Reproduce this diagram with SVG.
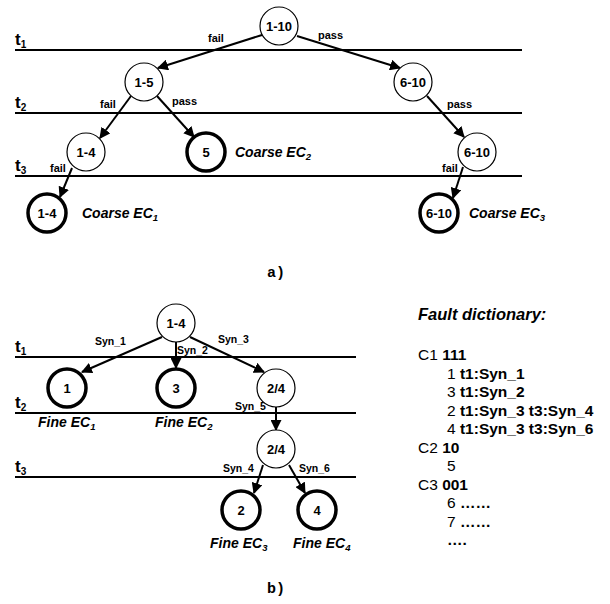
<svg xmlns="http://www.w3.org/2000/svg" width="610" height="604" viewBox="0 0 610 604">
<style>
text{font-family:"Liberation Sans",Arial,sans-serif;fill:#000}
.tl{font-size:17px;font-weight:bold}
.ts{font-size:10px;font-weight:bold}
.node{fill:#fff;stroke:#000;stroke-width:1.2}
.thick{fill:#fff;stroke:#000;stroke-width:3.5}
.nl{font-size:13px;font-weight:bold;text-anchor:middle}
.el{font-size:11px;font-weight:bold}
.sy{font-size:10.5px;font-weight:bold}
.ec{font-size:14px;font-weight:bold;font-style:italic}
.sub{font-size:9.5px}
.cap{font-family:"Liberation Mono","Courier New",monospace;font-size:15px;font-weight:bold}
.tline{stroke:#000;stroke-width:2.2}
.edge{stroke:#000;stroke-width:2;fill:none;marker-end:url(#ah)}
.fd{font-size:15.5px}
.b{font-weight:bold}
</style>
<defs>
<marker id="ah" viewBox="0 0 10 10" refX="9" refY="5" markerWidth="5.5" markerHeight="5.5" orient="auto" markerUnits="strokeWidth">
<path d="M0,0 L10,5 L0,10 z" fill="#000"/>
</marker>
</defs>

<g id="timelines">
<line class="tline" x1="15" y1="50" x2="522" y2="50"/>
<line class="tline" x1="15" y1="113" x2="522" y2="113"/>
<line class="tline" x1="15" y1="176" x2="522" y2="176"/>
<text class="tl" x="15" y="45">t<tspan class="ts" dy="3">1</tspan></text>
<text class="tl" x="15" y="108">t<tspan class="ts" dy="3">2</tspan></text>
<text class="tl" x="15" y="171">t<tspan class="ts" dy="3">3</tspan></text>
<line class="tline" x1="15" y1="357" x2="356" y2="357"/>
<line class="tline" x1="15" y1="413" x2="356" y2="413"/>
<line class="tline" x1="15" y1="477" x2="356" y2="477"/>
<text class="tl" x="15" y="352">t<tspan class="ts" dy="3">1</tspan></text>
<text class="tl" x="15" y="408">t<tspan class="ts" dy="3">2</tspan></text>
<text class="tl" x="15" y="472">t<tspan class="ts" dy="3">3</tspan></text>
</g>

<g id="connectors">
<line class="edge" x1="262" y1="35" x2="158" y2="68"/>
<line class="edge" x1="297" y1="36" x2="400" y2="68"/>
<line class="edge" x1="131" y1="96" x2="100" y2="138"/>
<line class="edge" x1="157" y1="96" x2="194" y2="137"/>
<line class="edge" x1="427" y1="96" x2="464" y2="137"/>
<line class="edge" x1="463" y1="167" x2="453" y2="198"/>
<line class="edge" x1="72" y1="168" x2="60" y2="197"/>
<line class="edge" x1="162" y1="337" x2="82" y2="372"/>
<line class="edge" x1="176" y1="342" x2="176" y2="368"/>
<line class="edge" x1="190" y1="337" x2="264" y2="372"/>
<line class="edge" x1="276" y1="407" x2="276" y2="430"/>
<line class="edge" x1="263" y1="465" x2="254" y2="493"/>
<line class="edge" x1="289" y1="465" x2="305" y2="493"/>
<text class="el" x="208" y="42">fail</text>
<text class="el" x="318" y="39">pass</text>
<text class="el" x="100" y="108">fail</text>
<text class="el" x="172" y="105">pass</text>
<text class="el" x="447" y="108">pass</text>
<text class="el" x="442" y="172">fail</text>
<text class="el" x="50" y="172">fail</text>
<text class="sy" x="95" y="345">Syn_1</text>
<text class="sy" x="177" y="354">Syn_2</text>
<text class="sy" x="218" y="343">Syn_3</text>
<text class="sy" x="235" y="410">Syn_5</text>
<text class="sy" x="223" y="472">Syn_4</text>
<text class="sy" x="299" y="472">Syn_6</text>
</g>

<g id="a_1-10"><circle class="node" cx="279" cy="26" r="19"/><text class="nl" x="279" y="31">1-10</text></g>
<g id="a_1-5"><circle class="node" cx="144" cy="82" r="19"/><text class="nl" x="144" y="87">1-5</text></g>
<g id="a_6-10"><circle class="node" cx="413" cy="82" r="19"/><text class="nl" x="413" y="87">6-10</text></g>
<g id="a_1-4"><circle class="node" cx="86" cy="152" r="19"/><text class="nl" x="86" y="157">1-4</text></g>
<g id="a_5"><circle class="thick" cx="206" cy="152" r="19"/><text class="nl" x="206" y="157">5</text><text class="ec" x="235" y="157">Coarse EC<tspan class="sub" dy="3">2</tspan></text></g>
<g id="a_6-10b"><circle class="node" cx="477" cy="152" r="19"/><text class="nl" x="477" y="157">6-10</text></g>
<g id="a_ec1"><circle class="thick" cx="47" cy="213" r="19"/><text class="nl" x="47" y="218">1-4</text><text class="ec" x="82" y="218">Coarse EC<tspan class="sub" dy="3">1</tspan></text></g>
<g id="a_ec3"><circle class="thick" cx="439" cy="213" r="19"/><text class="nl" x="439" y="218">6-10</text><text class="ec" x="469" y="218">Coarse EC<tspan class="sub" dy="3">3</tspan></text></g>
<text class="cap" x="267" y="277">a)</text>

<g id="b_1-4"><circle class="node" cx="176" cy="323" r="19"/><text class="nl" x="176" y="328">1-4</text></g>
<g id="b_1"><circle class="thick" cx="67" cy="388" r="19"/><text class="nl" x="67" y="393">1</text><text class="ec" x="38" y="427">Fine EC<tspan class="sub" dy="3">1</tspan></text></g>
<g id="b_3"><circle class="thick" cx="176" cy="388" r="19"/><text class="nl" x="176" y="393">3</text><text class="ec" x="155" y="427">Fine EC<tspan class="sub" dy="3">2</tspan></text></g>
<g id="b_24a"><circle class="node" cx="276" cy="388" r="19"/><text class="nl" x="276" y="393">2/4</text></g>
<g id="b_24b"><circle class="node" cx="276" cy="449" r="19"/><text class="nl" x="276" y="454">2/4</text></g>
<g id="b_2"><circle class="thick" cx="241" cy="510" r="19"/><text class="nl" x="241" y="515">2</text><text class="ec" x="210" y="548">Fine EC<tspan class="sub" dy="3">3</tspan></text></g>
<g id="b_4"><circle class="thick" cx="317" cy="510" r="19"/><text class="nl" x="317" y="515">4</text><text class="ec" x="293" y="548">Fine EC<tspan class="sub" dy="3">4</tspan></text></g>
<text class="cap" x="267" y="593">b)</text>

<g id="dictionary" class="fd">
<text x="418" y="320" class="b" font-style="italic" font-size="16.5">Fault dictionary:</text>
<text x="418" y="360">C1 <tspan class="b">111</tspan></text>
<text x="447" y="378.5">1 <tspan class="b">t1:Syn_1</tspan></text>
<text x="447" y="397">3 <tspan class="b">t1:Syn_2</tspan></text>
<text x="447" y="415.5">2 <tspan class="b">t1:Syn_3 t3:Syn_4</tspan></text>
<text x="447" y="434">4 <tspan class="b">t1:Syn_3 t3:Syn_6</tspan></text>
<text x="418" y="452.5">C2 <tspan class="b">10</tspan></text>
<text x="447" y="471">5</text>
<text x="418" y="489.5">C3 <tspan class="b">001</tspan></text>
<text x="447" y="508">6 <tspan class="b">……</tspan></text>
<text x="447" y="526.5">7 <tspan class="b">……</tspan></text>
<text x="447" y="545" class="b">….</text>
</g>
</svg>
